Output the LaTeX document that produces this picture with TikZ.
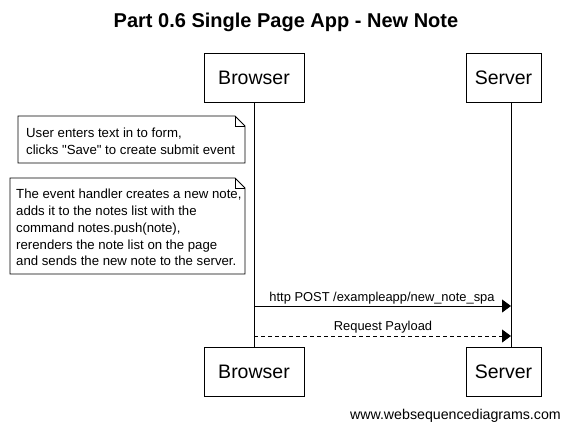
\documentclass[tikz,border=0pt]{standalone}
\usepackage{fontspec}
\setmainfont{Liberation Sans}
\usetikzlibrary{arrows.meta}
\begin{document}
\begin{tikzpicture}[x=1pt,y=-1pt,
  actor/.style={draw,line width=0.8pt,fill=white,minimum height=49pt,inner sep=0pt,font=\fontsize{19.5}{22}\selectfont},
  msg/.style={line width=0.8pt,-{Triangle[length=9pt,width=13pt]}},
  lbl/.style={font=\fontsize{12.9}{14}\selectfont,inner sep=0pt},
  notetxt/.style={font=\fontsize{13.2}{16.8}\selectfont,align=left,inner sep=0pt,anchor=north west}]
\useasboundingbox (0,0) rectangle (570,432);
\node[font=\bfseries\fontsize{20}{24}\selectfont] (title) at (286,22) {Part 0.6 Single Page App - New Note};
% actors
\node[actor,minimum width=100pt] (bt) at (254,77.5) {Browser};
\node[actor,minimum width=75pt] (st) at (503.5,77.5) {Server};
\node[actor,minimum width=100pt] (bb) at (254,372) {Browser};
\node[actor,minimum width=75pt] (sb) at (503.5,372) {Server};
\coordinate (bl) at (254,0);
\coordinate (sl) at (511,0);
\draw[line width=0.8pt] (bt.south -| bl) -- (bb.north -| bl);
\draw[line width=0.8pt] (st.south -| sl) -- (sb.north -| sl);
% note 1
\draw[line width=0.8pt,fill=white] (18,116) -- (235,116) -- (245,126) -- (245,163) -- (18,163) -- cycle;
\draw[line width=0.8pt] (235,116) -- (235,126) -- (245,126);
\node[notetxt] (n1) at (26,127.5) {User enters text in to form,\\clicks \textquotedbl Save\textquotedbl{} to create submit event};
% note 2
\draw[line width=0.8pt,fill=white] (10,178) -- (235,178) -- (245,188) -- (245,274) -- (10,274) -- cycle;
\draw[line width=0.8pt] (235,178) -- (235,188) -- (245,188);
\node[notetxt] (n2) at (16,189) {The event handler creates a new note,\\adds it to the notes list with the\\command notes.push(note),\\rerenders the note list on the page\\and sends the new note to the server.};
% messages
\coordinate (m1a) at (254,306);
\coordinate (m1b) at (511,306);
\draw[msg] (m1a) -- (m1b);
\node[lbl] (l1) at (382,298) {http POST /exampleapp/new\_note\_spa};
\coordinate (m2a) at (254,336);
\coordinate (m2b) at (511,336);
\draw[msg,dash pattern=on 4pt off 3pt] (m2a) -- (m2b);
\node[lbl] (l2) at (383,327) {Request Payload};
\node[font=\fontsize{14.2}{16}\selectfont,anchor=east,inner sep=0pt] (foot) at (561,416) {www.websequencediagrams.com};
\end{tikzpicture}
\end{document}
